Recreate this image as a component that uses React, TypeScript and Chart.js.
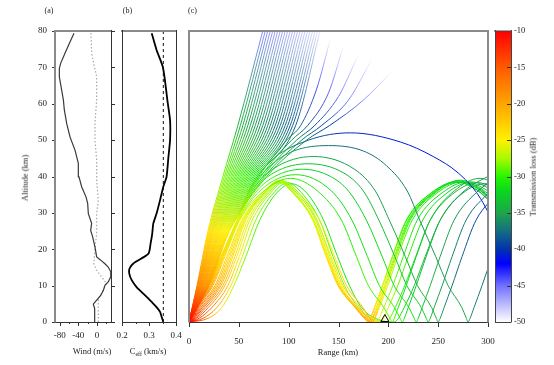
import { useEffect, useRef } from 'react';
import { Chart, registerables } from 'chart.js';

Chart.register(...registerables);

const W = 554;
const H = 365;
const SERIF = "'Liberation Serif', 'Times New Roman', serif";

// ---------- Panel (a): wind profiles ----------
const ZONAL_ALT = [0, 1.8, 3.7, 4.9, 6, 7.3, 8.7, 10.1, 11, 12.4, 13.8, 15.1, 16, 17, 17.9, 20.6, 23.4, 25.2, 27.1, 29.8, 32.6, 34.4, 37.2, 39.9, 43.6, 47.2, 50.9, 54.6, 58.3, 61, 64.7, 67.4, 69.7, 71.1, 73.9, 77, 79.4];
const ZONAL_WIND = [-4.3, -4.3, -5.7, -7.9, -0.7, 8, 13.6, 17, 24, 29.5, 29.5, 24, 17, 8, -0.7, -4.3, -9.3, -13.6, -11.5, -18.6, -20, -23.6, -32.9, -38.6, -40, -47, -57.9, -65, -70, -72, -77, -80.7, -80.7, -77.9, -68.6, -57.9, -49.3];
const MERID_ALT = [0, 4.1, 6, 7.3, 8.7, 10.6, 11, 12.4, 14.2, 16, 20.6, 24.3, 29.8, 33.5, 39, 44.5, 50, 54.6, 57, 61, 67.4, 68.5, 71, 73.9, 79.4];
const MERID_WIND = [2.8, 2.8, 2.8, 6.4, 13.6, 20, 18, 10, -0.7, -6.5, -4.3, -0.7, -0.7, 2.8, -0.7, -0.7, -4.3, -4.3, -3, -0.7, -0.7, -2.5, -7, -11.5, -12.9];

// ---------- Panel (b): effective sound speed ----------
const CEFF_ALT = [0, 1.4, 2.8, 4.1, 5.5, 6.4, 7.8, 9.6, 11.5, 13.3, 14.7, 16.1, 18.8, 21.6, 24.3, 27.1, 29.8, 33.5, 37.2, 39.9, 45.4, 50, 55.5, 61, 66.5, 70.2, 74.8, 79.4];
const CEFF = [0.353, 0.347, 0.341, 0.328, 0.31, 0.298, 0.279, 0.254, 0.236, 0.227, 0.228, 0.242, 0.298, 0.306, 0.312, 0.316, 0.328, 0.341, 0.353, 0.365, 0.372, 0.378, 0.378, 0.368, 0.359, 0.351, 0.328, 0.31];
const CEFF_SOURCE = 0.353;

// ---------- ticks ----------
const ALT_TICKS = [0, 10, 20, 30, 40, 50, 60, 70, 80];
const WIND_TICKS = [-80, -40, 0];
const WIND_MINOR = [-60, -20, 20];
const CEFF_TICKS = [0.2, 0.3, 0.4];
const CEFF_MINOR = [0.25, 0.35];
const RANGE_TICKS = [0, 50, 100, 150, 200, 250, 300];
const TL_TICKS = [-10, -15, -20, -25, -30, -35, -40, -45, -50];
const TL_INNER_TICKS = [-15, -20, -25, -30, -35, -40, -45];
const STATION_KM = 196.5;

// ---------- Panel (c): rays, each point = [range km, altitude km, transmission loss dB] ----------
const RAYS_ESCAPING: number[][][] = [
  [[0, 0, -10], [8.0, 10, -18], [19.0, 25, -24], [34.0, 40, -28.5], [49.0, 54, -34.0], [74.0, 80, -46.0]],
  [[0, 0, -10], [8.4, 10, -18], [19.8, 25, -24], [35.5, 40, -28.6], [51.5, 54, -34.2], [76.5, 80, -46.1]],
  [[0, 0, -10], [8.9, 10, -18], [20.6, 25, -24], [37.0, 40, -28.7], [54.0, 54, -34.4], [79.0, 80, -46.2]],
  [[0, 0, -10], [9.3, 10, -18], [21.4, 25, -24], [38.5, 40, -28.8], [56.5, 54, -34.6], [81.5, 80, -46.4]],
  [[0, 0, -10], [9.8, 10, -18], [22.2, 25, -24], [40.0, 40, -28.9], [59.0, 54, -34.8], [84.0, 80, -46.5]],
  [[0, 0, -10], [10.2, 10, -18], [23.0, 25, -24], [41.5, 40, -29.0], [61.5, 54, -35.0], [86.5, 80, -46.6]],
  [[0, 0, -10], [10.6, 10, -18], [23.8, 25, -24], [43.0, 40, -29.1], [64.0, 54, -35.2], [89.0, 80, -46.8]],
  [[0, 0, -10], [11.1, 10, -18], [24.6, 25, -24], [44.5, 40, -29.2], [66.5, 54, -35.4], [91.5, 80, -46.9]],
  [[0, 0, -10], [11.5, 10, -18.5], [25.4, 25, -24.5], [46.0, 40, -29.3], [69.0, 54, -35.6], [94.0, 80, -47.0]],
  [[0, 0, -10], [12.0, 10, -18.5], [26.2, 25, -24.5], [47.5, 40, -29.4], [71.5, 54, -35.8], [96.5, 80, -47.2]],
  [[0, 0, -10], [12.4, 10, -18.5], [27.0, 25, -24.5], [49.0, 40, -29.5], [74.0, 54, -36.0], [99.0, 80, -47.3]],
  [[0, 0, -10], [12.8, 10, -18.5], [27.8, 25, -24.5], [50.5, 40, -29.6], [76.5, 54, -36.2], [101.5, 80, -47.4]],
  [[0, 0, -10], [13.3, 10, -18.5], [28.6, 25, -24.5], [52.0, 40, -29.7], [79.0, 54, -36.4], [104.0, 80, -47.6]],
  [[0, 0, -10], [13.7, 10, -18.5], [29.4, 25, -24.5], [53.5, 40, -29.8], [81.5, 54, -36.6], [106.5, 80, -47.7]],
  [[0, 0, -10], [14.2, 10, -18.5], [30.2, 25, -24.5], [55.0, 40, -29.9], [84.0, 54, -36.8], [109.0, 80, -47.8]],
  [[0, 0, -10], [14.6, 10, -18.5], [31.0, 25, -24.5], [56.5, 40, -30.0], [86.5, 54, -37.0], [111.5, 80, -48.0]],
  [[0, 0, -10], [15.0, 10, -19], [31.8, 25, -25], [58.0, 40, -30.1], [89.0, 54, -37.2], [114.0, 80, -48.1]],
  [[0, 0, -10], [15.5, 10, -19], [32.6, 25, -25], [59.5, 40, -30.2], [91.5, 54, -37.4], [116.5, 80, -48.2]],
  [[0, 0, -10], [15.9, 10, -19], [33.4, 25, -25], [61.0, 40, -30.3], [94.0, 54, -37.6], [119.0, 80, -48.4]],
  [[0, 0, -10], [16.4, 10, -19], [34.2, 25, -25], [62.5, 40, -30.4], [96.5, 54, -37.8], [121.5, 80, -48.5]],
  [[0, 0, -10], [16.8, 10, -19], [35.0, 25, -25], [64.0, 40, -30.5], [99.0, 54, -38.0], [124.0, 80, -48.7]],
  [[0, 0, -10], [17.2, 10, -19], [35.8, 25, -25], [65.5, 40, -30.6], [101.5, 54, -38.2], [126.5, 80, -48.8]],
  [[0, 0, -10], [17.7, 10, -19], [36.6, 25, -25], [67.0, 40, -30.7], [104.0, 54, -38.4], [129.0, 80, -49.0]],
  [[0, 0, -10], [18.1, 10, -19], [37.4, 25, -25], [68.5, 40, -30.8], [107.0, 54, -38.6], [131.5, 80, -49.2]],
  [[0, 0, -10], [18.5, 10, -19], [38.2, 25, -25], [70.0, 40, -31.0], [98, 50, -35.0], [112, 54, -38.0], [128, 64, -44.0], [142, 78, -50]],
  [[0, 0, -10], [18.9, 10, -19], [39.0, 25, -25], [72.0, 40, -31.0], [103, 50, -35.5], [119, 54, -38.5], [140, 63, -44.5], [155, 76, -50]],
  [[0, 0, -10], [19.2, 10, -19], [39.6, 25, -25], [74.0, 40, -31.2], [108, 50, -36.0], [126, 54, -39.0], [150, 62, -45.0], [170, 73.5, -50]],
  [[0, 0, -10], [19.5, 10, -19], [40.2, 25, -25], [76.0, 40, -31.4], [113, 50, -36.5], [133, 54, -39.5], [160, 61, -45.5], [184, 72.5, -50]],
  [[0, 0, -10], [19.8, 10, -19], [40.8, 25, -25], [78.0, 40, -31.6], [118, 50, -37.0], [141, 54, -40.0], [175, 61, -46.0], [204, 69, -50]],
];

const RAYS_UPPER_DUCT: number[][][] = [
  [[0, 0, -10], [2.4, 1, -11.5], [8.6, 4, -15], [24, 10, -20.5], [36, 18, -23.5], [51, 28, -26], [75, 36, -28.5], [102, 39.5, -30], [129, 36, -30.5], [153, 28, -30.5], [168, 18, -30], [180, 10, -29.5], [195.4, 4, -29], [201.6, 1, -28.5], [204, 0, -28.5], [206, 1, -29.5], [210, 4, -30.5], [218, 10, -31.5], [228, 18, -32.5], [242, 28, -33], [266, 36, -34], [292, 39.5, -34.5], [318, 36, -35]],
  [[0, 0, -10], [2.2, 1, -11.5], [7.9, 4, -15], [23, 10, -20.5], [35, 18, -23.5], [50.5, 28, -26], [71, 36, -28.5], [107, 40.5, -31], [143, 36, -31.5], [163.5, 28, -31.5], [179, 18, -31], [191, 10, -30.5], [206.1, 4, -30], [211.8, 1, -30], [214, 0, -30], [216, 1, -31], [220, 4, -32], [228, 10, -33], [238, 18, -34], [252, 28, -34.5], [276, 36, -35.5], [303, 40.5, -36]],
  [[0, 0, -10], [2, 1, -11.5], [7.4, 4, -15], [22.2, 10, -20.5], [34.2, 18, -23.5], [50, 28, -26], [68, 36, -28.5], [86, 40, -30.5], [114, 42, -32], [142, 40, -32.5], [160, 36, -32.5], [178, 28, -32], [193.8, 18, -31.5], [205.8, 10, -31], [220.6, 4, -31], [226, 1, -31], [228, 0, -31], [230, 1, -32], [234, 4, -33], [242, 10, -34], [252, 18, -35], [266, 28, -35.5], [290, 36, -36.5], [310, 40, -37]],
  [[0, 0, -10], [1.9, 1, -11.5], [7, 4, -15], [21.4, 10, -20.5], [33.5, 18, -23.5], [49.5, 28, -26], [65, 36, -29], [85, 41, -31.5], [120, 43.5, -33.5], [155, 41, -34], [175, 36, -34], [190.5, 28, -33.5], [206.5, 18, -33], [218.6, 10, -32.5], [233, 4, -32.5], [238.1, 1, -32.5], [240, 0, -32.5], [242, 1, -33.5], [246, 4, -34.5], [254, 10, -35.5], [264, 18, -36.5], [278, 28, -37], [302, 36, -38]],
  [[0, 0, -10], [1.8, 1, -11.5], [6.6, 4, -15], [20.7, 10, -20.5], [33, 18, -23.5], [49, 28, -26], [63, 36, -29], [84, 42, -32.5], [125, 45.5, -35], [166, 42, -35.5], [187, 36, -35.5], [201, 28, -35], [217, 18, -34.5], [229.3, 10, -34], [243.4, 4, -34], [248.2, 1, -34], [250, 0, -34], [252, 1, -35], [256, 4, -36], [264, 10, -37], [274, 18, -38], [288, 28, -39], [312, 36, -40]],
  [[0, 0, -10], [1.7, 1, -11.5], [6.3, 4, -15], [20, 10, -20.5], [32.5, 18, -23.5], [48.5, 28, -26], [61, 36, -29], [82, 43, -33], [105, 47, -35.5], [140, 48.5, -37.5], [175, 47, -37.5], [198, 43, -37], [219, 36, -36.5], [231.5, 28, -36], [247.5, 18, -35.5], [260, 10, -35], [273.7, 4, -35], [278.3, 1, -35], [280, 0, -35], [282, 1, -36], [286, 4, -36.5], [294, 10, -37], [304, 18, -37.5]],
  [[0, 0, -10], [1.6, 1, -11.5], [6, 4, -15], [19.5, 10, -20.5], [32, 18, -23.5], [48, 28, -26], [60, 36, -29], [81, 44, -33.5], [120, 50, -38], [162, 52, -40.5], [212, 49.5, -41], [245, 45.5, -41], [270, 41, -41], [290, 35, -41], [310, 25, -41]],
];

const RAYS_LOWER_DUCT: number[][][] = [
  [[0, 0, -10], [2.6, 1, -12.5], [9.5, 4, -16], [26, 10, -20.5], [38, 18, -23.5], [53, 28, -25.5], [74, 35.5, -27], [92, 39, -27.5], [110, 35.5, -27], [131, 28, -26], [146, 18, -24.5], [158, 10, -23], [174.5, 4, -21.5], [181.4, 1, -20.5], [184, 0, -20.5], [186, 1, -22], [190, 4, -24], [198, 10, -26], [208, 18, -28], [222, 28, -30], [247, 35.5, -31], [272, 39, -32], [297, 35.5, -33], [322, 28, -34]],
  [[0, 0, -10], [3, 1, -12.5], [10.5, 4, -16], [27.5, 10, -20.5], [39.5, 18, -23.5], [54, 28, -25.5], [75, 35.5, -27], [91, 38.8, -27.5], [107, 35.5, -27], [128, 28, -26], [142.5, 18, -24.5], [154.5, 10, -23], [171.5, 4, -21.5], [179, 1, -20.5], [182, 0, -20.5], [184, 1, -22], [188, 4, -24], [196, 10, -26], [206, 18, -28], [220, 28, -30], [245, 35.5, -31], [270, 38.8, -32], [295, 35.5, -33], [320, 28, -34]],
  [[0, 0, -10], [3.5, 1, -12.5], [12, 4, -16], [29, 10, -20.5], [41, 18, -23.5], [55, 28, -25.5], [75.5, 35.5, -27], [90, 38.5, -27.5], [104.5, 35.5, -27], [125, 28, -26], [139, 18, -24.5], [151, 10, -23], [168, 4, -21.5], [176.5, 1, -20.5], [180, 0, -20.5], [182, 1, -22], [186, 4, -24], [194, 10, -26], [204, 18, -28], [218, 28, -30], [243, 35.5, -31], [268, 38.5, -32], [293, 35.5, -33], [318, 28, -34]],
  [[0, 0, -10], [4.2, 1, -12.5], [13.5, 4, -16], [30.5, 10, -20.5], [42.5, 18, -23.5], [56, 28, -25.5], [76, 35.5, -27], [90, 38.5, -27.5], [104, 35.5, -27], [124, 28, -26], [137.5, 18, -24.5], [149.5, 10, -23], [166.5, 4, -21.5], [175.8, 1, -20.5], [180, 0, -20.5], [182.2, 1, -22], [186.5, 4, -24], [194.5, 10, -26], [204.5, 18, -28], [218.5, 28, -30], [243.5, 35.5, -31], [268, 38.5, -32], [292.5, 35.5, -33], [317, 28, -34]],
  [[0, 0, -10], [5, 1, -12.5], [15, 4, -16], [32, 10, -20.5], [44, 18, -23.5], [57, 28, -25.5], [77, 35.5, -27], [91, 38.5, -27.5], [105, 35.5, -27], [125, 28, -26], [138, 18, -24.5], [150, 10, -23], [167, 4, -21.5], [177, 1, -20.5], [182, 0, -20.5], [184.3, 1, -22], [189, 4, -24], [197, 10, -26], [207, 18, -28], [221, 28, -30], [246, 35.5, -31], [271, 38.5, -32], [296, 35.5, -33], [321, 28, -34]],
  [[0, 0, -10], [6, 1, -12.5], [17, 4, -16], [34, 10, -20.5], [46, 18, -23.5], [59, 28, -25.5], [78.5, 35.5, -27], [92, 38.5, -27.5], [105.5, 35.5, -27], [125, 28, -26], [138, 18, -24.5], [150, 10, -23], [167, 4, -21.5], [178, 1, -20.5], [184, 0, -20.5], [186.5, 1, -22], [191, 4, -24], [199.5, 10, -26], [209.5, 18, -28], [224, 28, -30], [249, 35.5, -31], [274, 38.5, -32], [299, 35.5, -33], [324, 28, -34]],
  [[0, 0, -10], [7.5, 1, -13], [19.5, 4, -17], [36, 10, -21.5], [48, 18, -24.5], [61, 28, -26.5], [80, 35.5, -28], [94, 38.5, -28.5], [108, 35.5, -28], [127, 28, -27.5], [140, 18, -26.5], [152, 10, -25], [168.5, 4, -23.5], [180.5, 1, -23], [188, 0, -23], [190.8, 1, -25], [195.5, 4, -27], [204.5, 10, -28.5], [215, 18, -30], [229, 28, -31], [254, 35.5, -32], [279, 38.5, -33], [304, 35.5, -34]],
  [[0, 0, -10], [10, 1, -13], [23, 4, -17], [39, 10, -21.5], [50.5, 18, -24.5], [63.5, 28, -26.5], [82, 35.5, -28], [96, 38.5, -28.5], [110, 35.5, -28], [128.5, 28, -27.5], [141.5, 18, -26.5], [153, 10, -25], [169, 4, -23.5], [182, 1, -23], [192, 0, -23], [195, 1, -25], [200, 4, -27], [209.5, 10, -28.5], [220, 18, -30], [234.5, 28, -31], [259, 35.5, -32], [284, 38.5, -33], [309, 35.5, -34]],
  [[0, 0, -10], [14, 1, -15], [28, 4, -20], [42, 10, -24], [53.5, 18, -26.5], [67, 28, -28], [85, 35.5, -29], [99, 38.3, -29.5], [113, 35.5, -29.5], [131, 28, -29.5], [144.5, 18, -29], [156, 10, -28.5], [170, 4, -28], [184, 1, -27.5], [198, 0, -27.5], [201.5, 1, -28.5], [207, 4, -29.5], [216.5, 10, -30.5], [227.5, 18, -31.5], [242, 28, -32.5], [266, 35.5, -33.5], [290, 38.3, -34.5], [314, 35.5, -35.5]],
  [[0, 0, -10], [19, 1, -19], [33, 4, -24], [45, 10, -27], [57, 18, -28.5], [71, 28, -29.5], [88, 35.5, -30.5], [103, 38, -31], [118, 35.5, -31], [135, 28, -31], [149, 18, -31], [161, 10, -31], [173, 4, -30.5], [187, 1, -30.5], [206, 0, -30.5], [210, 1, -31], [216, 4, -32], [226, 10, -33], [237, 18, -33.5], [252, 28, -34], [275, 35.5, -35], [298, 38, -36], [321, 35.5, -36.5]],
];

const ALL_RAYS = [...RAYS_ESCAPING, ...RAYS_UPPER_DUCT, ...RAYS_LOWER_DUCT];

// ---------- colour map for transmission loss ----------
const CMAP: number[][] = [
  [-50, 255, 255, 255],
  [-45, 112, 112, 255],
  [-42, 0, 0, 255],
  [-40, 0, 50, 175],
  [-37.5, 20, 110, 130],
  [-35, 30, 165, 75],
  [-32, 10, 215, 30],
  [-30, 40, 245, 0],
  [-27.5, 170, 250, 0],
  [-25, 255, 240, 0],
  [-20, 255, 165, 0],
  [-15, 255, 90, 0],
  [-10, 255, 0, 0],
];

function tlColor(v: number): string {
  const t = Math.max(-50, Math.min(-10, v));
  for (let i = 0; i < CMAP.length - 1; i++) {
    const a = CMAP[i];
    const b = CMAP[i + 1];
    if (t >= a[0] && t <= b[0]) {
      const f = (t - a[0]) / (b[0] - a[0]);
      const r = Math.round(a[1] + (b[1] - a[1]) * f);
      const g = Math.round(a[2] + (b[2] - a[2]) * f);
      const bl = Math.round(a[3] + (b[3] - a[3]) * f);
      return `rgb(${r},${g},${bl})`;
    }
  }
  return 'rgb(255,0,0)';
}

const segColor = (ctx: any) => {
  const ray = ALL_RAYS[ctx.datasetIndex];
  const a = ray && ray[ctx.p0DataIndex];
  const b = ray && ray[ctx.p1DataIndex];
  if (!a || !b) return tlColor(-30);
  const { p0, p1 } = ctx;
  if (!isFinite(p0.x) || !isFinite(p0.y) || !isFinite(p1.x) || !isFinite(p1.y)) return tlColor(a[2]);
  const g = ctx.chart.ctx.createLinearGradient(p0.x, p0.y, p1.x, p1.y);
  g.addColorStop(0, tlColor(a[2]));
  g.addColorStop(1, tlColor(b[2]));
  return g;
};

// ---------- frame / tick plugin ----------
type Edge = [string, number];
interface TickSet { axis: 'x' | 'y'; at: number[]; len: number; where: 'below' | 'left' | 'right' | 'insideRight' }
interface FrameCfg { top?: Edge; right?: Edge; bottom?: Edge; left?: Edge; ticks?: TickSet[]; tickColor?: string }

function framePlugin(cfg: FrameCfg) {
  return {
    id: 'frame',
    afterDraw(chart: any) {
      const { ctx, chartArea: a, scales } = chart;
      ctx.save();
      const line = (x1: number, y1: number, x2: number, y2: number, c: string, w: number) => {
        ctx.strokeStyle = c;
        ctx.lineWidth = w;
        ctx.beginPath();
        ctx.moveTo(x1, y1);
        ctx.lineTo(x2, y2);
        ctx.stroke();
      };
      const tc = cfg.tickColor || '#333';
      for (const t of cfg.ticks || []) {
        const s = scales[t.axis];
        for (const v of t.at) {
          const p = Math.round(s.getPixelForValue(v)) + 0.5;
          if (t.where === 'below') line(p, a.bottom, p, a.bottom + t.len, tc, 1);
          else if (t.where === 'left') line(a.left - t.len, p, a.left, p, tc, 1);
          else if (t.where === 'right') line(a.right, p, a.right + t.len, p, tc, 1);
          else line(a.right - t.len, p, a.right, p, tc, 1);
        }
      }
      const off = (w: number) => 0.5 * (w % 2);
      if (cfg.bottom) line(a.left, Math.round(a.bottom) + off(cfg.bottom[1]), a.right, Math.round(a.bottom) + off(cfg.bottom[1]), cfg.bottom[0], cfg.bottom[1]);
      if (cfg.top) line(a.left - 1, a.top, a.right + 1, a.top, cfg.top[0], cfg.top[1]);
      if (cfg.left) line(Math.round(a.left) + off(cfg.left[1]), a.top - 1, Math.round(a.left) + off(cfg.left[1]), a.bottom + 0.5, cfg.left[0], cfg.left[1]);
      if (cfg.right) line(Math.round(a.right) + off(cfg.right[1]), a.top - 1, Math.round(a.right) + off(cfg.right[1]), a.bottom + 0.5, cfg.right[0], cfg.right[1]);
      ctx.restore();
    },
  };
}

const stationPlugin = {
  id: 'station',
  afterDatasetsDraw(chart: any) {
    const { ctx, chartArea: a, scales } = chart;
    const x = scales.x.getPixelForValue(STATION_KM);
    const yb = a.bottom - 0.5;
    ctx.save();
    ctx.strokeStyle = '#000';
    ctx.lineWidth = 1;
    ctx.beginPath();
    ctx.moveTo(x - 4, yb);
    ctx.lineTo(x + 4, yb);
    ctx.lineTo(x, yb - 7);
    ctx.closePath();
    ctx.stroke();
    ctx.restore();
  },
};

const colorbarPlugin = {
  id: 'cbar',
  beforeDraw(chart: any) {
    const { ctx, chartArea: a } = chart;
    const g = ctx.createLinearGradient(0, a.bottom, 0, a.top);
    for (const s of CMAP) g.addColorStop((s[0] + 50) / 40, `rgb(${s[1]},${s[2]},${s[3]})`);
    ctx.save();
    ctx.fillStyle = g;
    ctx.fillRect(a.left, a.top, a.right - a.left, a.bottom - a.top);
    ctx.restore();
  },
};

const tickFont = { family: SERIF, size: 9 };
const hiddenGrid = { display: false, drawTicks: false };
const noBorder = { display: false };
const baseOpts = {
  responsive: false,
  animation: false as const,
  events: [] as any[],
  plugins: { legend: { display: false }, tooltip: { enabled: false }, title: { display: false } },
};

function configA(): any {
  return {
    type: 'line',
    data: {
      datasets: [
        { data: ZONAL_ALT.map((a, i) => ({ x: ZONAL_WIND[i], y: a })), borderColor: '#3a3a3a', borderWidth: 1.2, pointRadius: 0, tension: 0 },
        { data: MERID_ALT.map((a, i) => ({ x: MERID_WIND[i], y: a })), borderColor: '#a8a8a8', borderWidth: 1.2, borderDash: [1.5, 2], pointRadius: 0, tension: 0 },
      ],
    },
    options: {
      ...baseOpts,
      layout: { padding: { left: 25, right: 443, top: 31, bottom: 13 } },
      scales: {
        x: {
          type: 'linear', min: -90, max: 30,
          afterBuildTicks: (s: any) => { s.ticks = WIND_TICKS.map((v) => ({ value: v })); },
          afterFit: (s: any) => { s.height = 30; },
          grid: hiddenGrid, border: noBorder,
          ticks: { font: tickFont, color: '#222', padding: 8, maxRotation: 0, autoSkip: false },
        },
        y: {
          type: 'linear', min: 0, max: 80,
          afterBuildTicks: (s: any) => { s.ticks = ALT_TICKS.map((v) => ({ value: v })); },
          afterFit: (s: any) => { s.width = 30; },
          grid: hiddenGrid, border: noBorder,
          ticks: { font: tickFont, color: '#222', padding: 8, autoSkip: false },
        },
      },
    },
    plugins: [framePlugin({
      top: ['#8a8a8a', 2], left: ['#8a8a8a', 2], right: ['#333', 1], bottom: ['#333', 1],
      ticks: [
        { axis: 'x', at: WIND_TICKS, len: 4, where: 'below' },
        { axis: 'x', at: WIND_MINOR, len: 2, where: 'below' },
        { axis: 'y', at: ALT_TICKS, len: 3, where: 'left' },
        { axis: 'y', at: ALT_TICKS, len: 4, where: 'right' },
      ],
    })],
  };
}

function configB(): any {
  return {
    type: 'line',
    data: {
      datasets: [
        { data: [{ x: CEFF_SOURCE, y: 0 }, { x: CEFF_SOURCE, y: 80 }], borderColor: '#111', borderWidth: 1, borderDash: [3, 3], pointRadius: 0 },
        { data: CEFF_ALT.map((a, i) => ({ x: CEFF[i], y: a })), borderColor: '#000', borderWidth: 1.8, pointRadius: 0, tension: 0.2 },
      ],
    },
    options: {
      ...baseOpts,
      layout: { padding: { left: 122, right: 378, top: 31, bottom: 13 } },
      scales: {
        x: {
          type: 'linear', min: 0.2, max: 0.4,
          afterBuildTicks: (s: any) => { s.ticks = CEFF_TICKS.map((v) => ({ value: v })); },
          afterFit: (s: any) => { s.height = 30; },
          grid: hiddenGrid, border: noBorder,
          ticks: { font: tickFont, color: '#222', padding: 8, maxRotation: 0, autoSkip: false, callback: (v: any) => Number(v).toFixed(1) },
        },
        y: { type: 'linear', min: 0, max: 80, display: false },
      },
    },
    plugins: [framePlugin({
      top: ['#8a8a8a', 2], left: ['#333', 1], right: ['#333', 1], bottom: ['#333', 1],
      ticks: [
        { axis: 'x', at: CEFF_TICKS, len: 4, where: 'below' },
        { axis: 'x', at: CEFF_MINOR, len: 2, where: 'below' },
      ],
    })],
  };
}

function configC(): any {
  return {
    type: 'line',
    data: {
      datasets: ALL_RAYS.map((ray) => ({
        data: ray.map((p) => ({ x: p[0], y: p[1] })),
        borderWidth: 1,
        borderColor: '#0c0',
        pointRadius: 0,
        fill: false,
        cubicInterpolationMode: 'monotone',
        segment: { borderColor: segColor },
      })),
    },
    options: {
      ...baseOpts,
      layout: { padding: { left: 189, right: 66, top: 31, bottom: 13 } },
      scales: {
        x: {
          type: 'linear', min: 0, max: 300,
          afterBuildTicks: (s: any) => { s.ticks = RANGE_TICKS.map((v) => ({ value: v })); },
          afterFit: (s: any) => { s.height = 30; },
          grid: hiddenGrid, border: noBorder,
          ticks: { font: tickFont, color: '#222', padding: 14, maxRotation: 0, autoSkip: false },
        },
        y: { type: 'linear', min: 0, max: 80, display: false },
      },
    },
    plugins: [stationPlugin, framePlugin({
      top: ['#8a8a8a', 2], left: ['#8a8a8a', 2], right: ['#8a8a8a', 2], bottom: ['#333', 1],
      ticks: [{ axis: 'x', at: RANGE_TICKS, len: 5, where: 'below' }],
    })],
  };
}

function configBar(): any {
  return {
    type: 'line',
    data: { datasets: [] },
    options: {
      ...baseOpts,
      layout: { padding: { left: 495, right: 13, top: 31, bottom: 43 } },
      scales: {
        x: { type: 'linear', min: 0, max: 1, display: false },
        y: {
          type: 'linear', position: 'right', min: -50, max: -10,
          afterBuildTicks: (s: any) => { s.ticks = TL_TICKS.map((v) => ({ value: v })); },
          afterFit: (s: any) => { s.width = 30; },
          grid: hiddenGrid, border: noBorder,
          ticks: { font: { family: SERIF, size: 8.5 }, color: '#222', padding: 3, autoSkip: false, callback: (v: any) => String(v) },
        },
      },
    },
    plugins: [colorbarPlugin, framePlugin({
      top: ['#444', 1], left: ['#444', 1], right: ['#444', 1], bottom: ['#444', 1],
      ticks: [{ axis: 'y', at: TL_INNER_TICKS, len: 4, where: 'insideRight' }],
    })],
  };
}

function Label(props: { x: number; y: number; rotate?: boolean; size?: number; children: any }) {
  const { x, y, rotate, size = 8.5, children } = props;
  return (
    <div
      style={{
        position: 'absolute',
        left: x,
        top: y,
        transform: `translate(-50%, -50%)${rotate ? ' rotate(-90deg)' : ''}`,
        fontFamily: SERIF,
        fontSize: size,
        lineHeight: 1,
        color: '#222',
        whiteSpace: 'nowrap',
      }}
    >
      {children}
    </div>
  );
}

export default function App() {
  const aRef = useRef<HTMLCanvasElement>(null);
  const bRef = useRef<HTMLCanvasElement>(null);
  const cRef = useRef<HTMLCanvasElement>(null);
  const dRef = useRef<HTMLCanvasElement>(null);

  useEffect(() => {
    Chart.defaults.font.family = SERIF;
    const charts = [
      new Chart(aRef.current as HTMLCanvasElement, configA()),
      new Chart(bRef.current as HTMLCanvasElement, configB()),
      new Chart(cRef.current as HTMLCanvasElement, configC()),
      new Chart(dRef.current as HTMLCanvasElement, configBar()),
    ];
    return () => charts.forEach((c) => c.destroy());
  }, []);

  const cv = { position: 'absolute' as const, left: 0, top: 0, width: W, height: H };
  return (
    <div style={{ position: 'fixed', left: 0, top: 0, width: W, height: H, background: '#fff', overflow: 'hidden' }}>
      <canvas ref={aRef} width={W} height={H} style={cv} />
      <canvas ref={bRef} width={W} height={H} style={cv} />
      <canvas ref={cRef} width={W} height={H} style={cv} />
      <canvas ref={dRef} width={W} height={H} style={cv} />
      <Label x={49} y={11} size={8}>(a)</Label>
      <Label x={127.5} y={11} size={8}>(b)</Label>
      <Label x={192.5} y={11} size={8}>(c)</Label>
      <Label x={25} y={178} rotate>Altitude (km)</Label>
      <Label x={92} y={350.5}>Wind (m/s)</Label>
      <Label x={148} y={350.5}>
        <span>C<sub style={{ fontSize: 6, verticalAlign: 'sub', lineHeight: 0 }}>eff</sub> (km/s)</span>
      </Label>
      <Label x={338} y={352}>Range (km)</Label>
      <Label x={533} y={177} rotate>Transmission loss (dB)</Label>
    </div>
  );
}
